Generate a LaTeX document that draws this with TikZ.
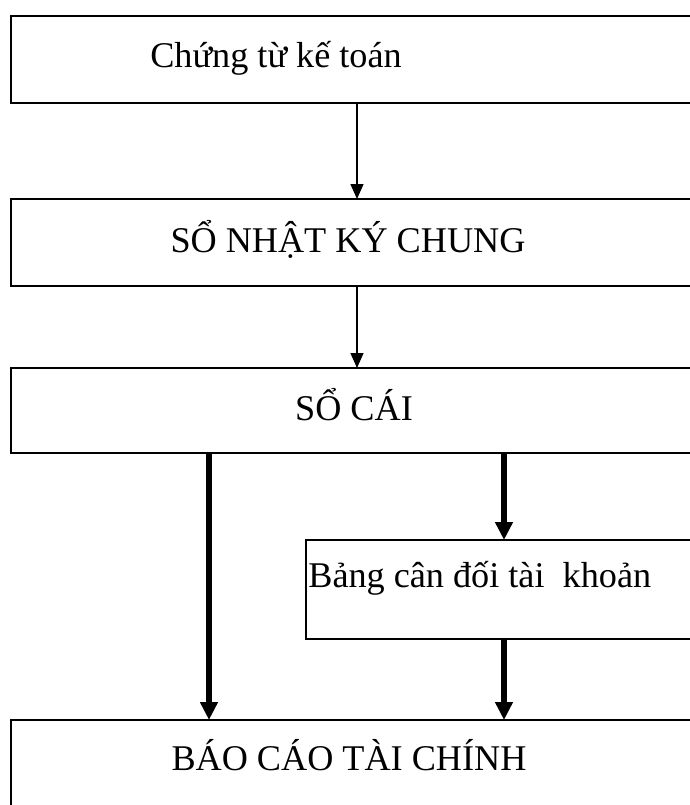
\documentclass[tikz,border=0pt]{standalone}
\usepackage{fontspec}
\setmainfont{Liberation Serif}
\usetikzlibrary{arrows.meta,positioning}

\begin{document}
\begin{tikzpicture}[font=\fontsize{20.6pt}{24pt}\selectfont,
  box/.style={draw, line width=1.3pt, outer sep=0pt, inner sep=0pt, anchor=north west, minimum width=14.2cm},
  label text/.style={inner sep=0pt},
  thinarrow/.style={line width=0.8pt, -{Triangle[length=0.3cm, width=0.26cm]}},
  thickarrow/.style={line width=3.2pt, -{Triangle[length=0.36cm, width=0.34cm]}}]
  \useasboundingbox (0,0) rectangle (13.8,-16.1);
  \clip (0,0) rectangle (13.8,-16.1);
  % boxes (right side runs off the page)
  \node[box, minimum height=1.74cm] (chungtu) at (0.22,-0.32) {};
  \node[box, minimum height=1.74cm] (nhatky) at (0.22,-3.98) {};
  \node[box, minimum height=1.70cm] (socai) at (0.22,-7.36) {};
  \node[box, minimum height=1.98cm, minimum width=8.3cm] (candoi) at (6.12,-10.80) {};
  \node[box, minimum height=2.5cm] (baocao) at (0.22,-14.40) {};
  % texts
  \node[label text, anchor=base west] (tchungtu) at (3.0,-1.34) {Chứng từ kế toán};
  \node[label text, anchor=base] (tnhatky) at (6.96,-5.04) {SỔ NHẬT KÝ CHUNG};
  \node[label text, anchor=base] (tsocai) at (7.08,-8.40) {SỔ CÁI};
  \node[label text, anchor=base west] (tcandoi) at (6.16,-11.74) {Bảng cân đối tài~ khoản};
  \node[label text, anchor=base] (tbaocao) at (6.98,-15.40) {BÁO CÁO TÀI CHÍNH};
  % arrows
  \coordinate (mid) at (7.14,0);
  \coordinate (lft) at (4.18,0);
  \coordinate (rgt) at (10.08,0);
  \draw[thinarrow] (chungtu.south -| mid) -- (nhatky.north -| mid);
  \draw[thinarrow] (nhatky.south -| mid) -- (socai.north -| mid);
  \draw[thickarrow] (socai.south -| lft) -- (baocao.north -| lft);
  \draw[thickarrow] (socai.south -| rgt) -- (candoi.north -| rgt);
  \draw[thickarrow] (candoi.south -| rgt) -- (baocao.north -| rgt);
\end{tikzpicture}
\end{document}
